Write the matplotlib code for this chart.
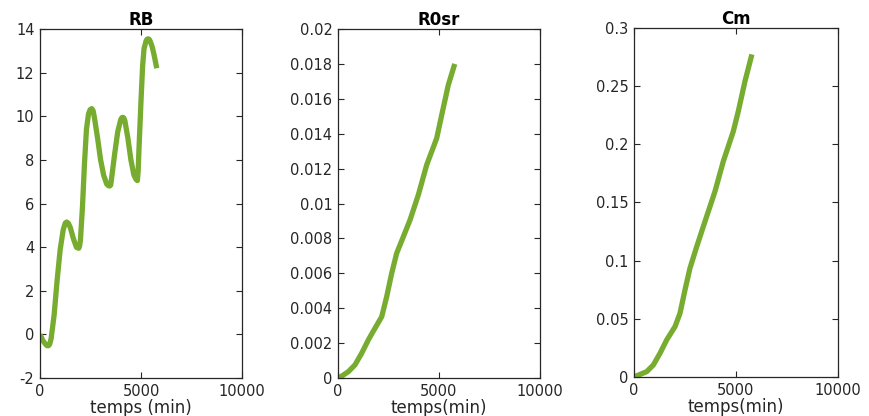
import matplotlib
matplotlib.use("Agg")
import matplotlib.pyplot as plt
from matplotlib.ticker import FuncFormatter

# ---------------- data ----------------
rb_t = [0, 150, 300, 360, 420, 480, 550, 700, 850, 1000, 1150, 1250, 1320, 1400, 1500,
        1650, 1800, 1870, 1920, 1960, 2000, 2100, 2200, 2300, 2400, 2480, 2560, 2630,
        2700, 2850, 3000, 3150, 3300, 3380, 3450, 3500, 3550, 3700, 3850, 4000, 4050,
        4100, 4150, 4200, 4350, 4500, 4650, 4760, 4820, 4860, 4900, 4950, 5000, 5080,
        5150, 5250, 5300, 5360, 5410, 5450, 5550, 5650, 5780]
rb_v = [0.0, -0.3, -0.48, -0.52, -0.52, -0.45, -0.2, 0.9, 2.5, 3.9, 4.8, 5.1, 5.15, 5.1,
        4.9, 4.4, 4.0, 3.96, 3.95, 4.05, 4.3, 5.8, 7.8, 9.4, 10.1, 10.3, 10.35, 10.25,
        9.9, 9.0, 8.0, 7.3, 6.9, 6.82, 6.8, 6.85, 7.2, 8.3, 9.3, 9.85, 9.93,
        9.95, 9.92, 9.8, 9.0, 8.0, 7.3, 7.1, 7.05, 7.5, 8.5, 9.6, 10.7, 12.3,
        13.1, 13.45, 13.53, 13.55, 13.52, 13.45, 13.2, 12.8, 12.2]

r0_t = [0, 200, 510, 840, 1173, 1500, 1830, 2163, 2410, 2658, 2905, 3236, 3564,
        3976, 4390, 4886, 5134, 5460, 5780]
r0_v = [0.0, 0.00012, 0.00036, 0.00075, 0.00142, 0.00218, 0.00285, 0.00351, 0.00466,
        0.0060, 0.00715, 0.0081, 0.00905, 0.01049, 0.01221, 0.01374, 0.01507,
        0.01679, 0.0180]

cm_t = [0, 130, 622, 946, 1275, 1603, 2010, 2255, 2500, 2745, 3073, 3480, 3971,
        4378, 4868, 5113, 5441, 5780]
cm_v = [0.0, 0.001, 0.0046, 0.0103, 0.0204, 0.0319, 0.0433, 0.0548, 0.0749, 0.0936,
        0.112, 0.1337, 0.1596, 0.1854, 0.2112, 0.2284, 0.2543, 0.2773]

titles = ["RB", "R0sr", "Cm"]
xlabels = ["temps (min)", "temps(min)", "temps(min)"]
x_ticks = [0, 5000, 10000]
rb_yticks = [-2, 0, 2, 4, 6, 8, 10, 12, 14]
r0_yticks = [0, 0.002, 0.004, 0.006, 0.008, 0.01, 0.012, 0.014, 0.016, 0.018, 0.02]
cm_yticks = [0, 0.05, 0.1, 0.15, 0.2, 0.25, 0.3]

# ---------------- styling ----------------
plt.rcParams['font.family'] = ['DejaVu Sans']
line_color = "#77AC30"
axis_color = "#262626"

fig = plt.figure(figsize=(8.69, 4.16), dpi=100)
positions = [
    [40 / 869, 1 - 378 / 416, 202 / 869, 349 / 416],
    [338 / 869, 1 - 378 / 416, 202 / 869, 349 / 416],
    [634 / 869, 1 - 377 / 416, 204 / 869, 349 / 416],
]
series = [(rb_t, rb_v, rb_yticks), (r0_t, r0_v, r0_yticks), (cm_t, cm_v, cm_yticks)]

fmt = FuncFormatter(lambda v, p: ("%g" % round(v, 6)))

for i, (pos, (t, v, yt)) in enumerate(zip(positions, series)):
    ax = fig.add_axes(pos)
    ax.plot(t, v, color=line_color, linewidth=3.8, solid_capstyle='butt',
            solid_joinstyle='round')
    ax.set_xlim(0, 10000)
    ax.set_ylim(yt[0], yt[-1])
    ax.set_xticks(x_ticks)
    ax.set_yticks(yt)
    ax.yaxis.set_major_formatter(fmt)
    ax.xaxis.set_major_formatter(fmt)
    ax.tick_params(direction='in', length=4, width=0.8, colors=axis_color,
                   top=True, right=True, labelsize=10.5, pad=4)
    for s in ax.spines.values():
        s.set_color(axis_color)
        s.set_linewidth(0.9)
    ax.set_title(titles[i], fontsize=12, fontweight='bold', pad=3, color='black')
    ax.set_xlabel(xlabels[i], fontsize=12, color=axis_color, labelpad=0)

fig.savefig("out.png", dpi=100, facecolor='white')
